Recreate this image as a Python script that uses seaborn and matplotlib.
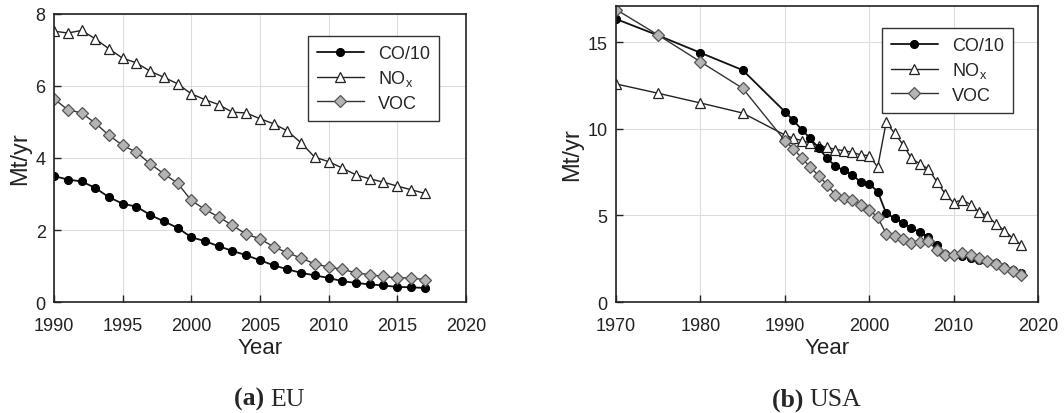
import numpy as np
import pandas as pd
import matplotlib
matplotlib.use("Agg")
import matplotlib.pyplot as plt
import seaborn as sns

# EU emissions (Mt/yr), 1990-2017
eu_years = list(range(1990, 2018))
eu_co = [3.50, 3.40, 3.35, 3.17, 2.91, 2.73, 2.65, 2.42, 2.24, 2.06,
         1.80, 1.69, 1.55, 1.42, 1.30, 1.16, 1.02, 0.91, 0.81, 0.74,
         0.67, 0.58, 0.53, 0.49, 0.46, 0.42, 0.41, 0.39]
eu_nox = [7.52, 7.47, 7.54, 7.31, 7.03, 6.77, 6.64, 6.41, 6.24, 6.06,
          5.78, 5.62, 5.48, 5.27, 5.25, 5.09, 4.95, 4.75, 4.42, 4.02,
          3.90, 3.72, 3.53, 3.42, 3.33, 3.22, 3.12, 3.02]
eu_voc = [5.64, 5.34, 5.25, 4.97, 4.63, 4.35, 4.16, 3.84, 3.56, 3.30,
          2.82, 2.57, 2.36, 2.13, 1.88, 1.76, 1.53, 1.37, 1.22, 1.06,
          0.97, 0.91, 0.81, 0.76, 0.71, 0.67, 0.67, 0.62]

# USA emissions (Mt/yr), 1970-1985 every 5 years, then yearly to 2018
us_years = [1970, 1975, 1980, 1985] + list(range(1990, 2019))
us_co = [16.35, 15.40, 14.40, 13.40,
         11.00, 10.50, 9.96, 9.46, 8.90, 8.30, 7.85, 7.60, 7.35, 6.92,
         6.83, 6.38, 5.13, 4.85, 4.58, 4.27, 4.04, 3.75, 3.27, 2.79,
         2.73, 2.65, 2.54, 2.44, 2.35, 2.25, 2.02, 1.83, 1.69]
us_nox = [12.60, 12.06, 11.50, 10.92,
          9.65, 9.46, 9.33, 9.19, 9.04, 8.94, 8.81, 8.75, 8.65, 8.50,
          8.46, 7.79, 10.38, 9.75, 9.10, 8.30, 7.98, 7.69, 6.96, 6.25,
          5.73, 5.92, 5.63, 5.23, 4.96, 4.52, 4.13, 3.69, 3.31]
us_voc = [16.90, 15.42, 13.88, 12.35,
          9.33, 8.85, 8.33, 7.79, 7.31, 6.77, 6.19, 6.00, 5.87, 5.62,
          5.33, 4.90, 3.94, 3.79, 3.62, 3.42, 3.46, 3.52, 2.98, 2.73,
          2.73, 2.83, 2.69, 2.54, 2.35, 2.21, 1.96, 1.77, 1.54]

sns.set_style("ticks")
plt.rcParams['font.family'] = ['Liberation Sans', 'DejaVu Sans']
plt.rcParams['xtick.direction'] = 'in'
plt.rcParams['ytick.direction'] = 'in'

styles = {
    "NOx": dict(marker="^", mfc="white", mec="#222222", color="#222222", ms=6.5, mew=0.9, lw=1.0),
    "CO":  dict(marker="o", mfc="black", mec="black", color="#111111", ms=5.8, lw=1.3),
    "VOC": dict(marker="D", mfc="#b4b4b4", mec="#555555", color="#333333", ms=6.0, mew=0.9, lw=1.0),
}
labels = {"CO": "CO/10", "NOx": r"NO$_\mathregular{x}$", "VOC": "VOC"}


def draw_panel(ax, years, co, nox, voc, ax_h, ylab_x):
    df = pd.DataFrame({"Year": years, "CO": co, "NOx": nox, "VOC": voc})
    handles = {}
    for key in ["NOx", "CO", "VOC"]:
        sns.lineplot(data=df, x="Year", y=key, ax=ax, label=labels[key], **styles[key])
        handles[key] = ax.get_lines()[-1]
    ax.grid(True, color="#dddddd", lw=0.8)
    ax.set_axisbelow(True)
    for s in ax.spines.values():
        s.set_color("#222222")
        s.set_linewidth(1.2)
    ax.tick_params(labelsize=13, length=5, width=1, colors="#222222")
    ax.tick_params(axis="x", pad=11)
    ax.tick_params(axis="y", pad=6)
    ax.set_xlabel("Year", fontsize=16, va="center", color="#222222")
    ax.xaxis.set_label_coords(0.5, -45 / ax_h)
    ax.set_ylabel("Mt/yr", fontsize=17, va="center", ha="center", color="#222222")
    ax.yaxis.set_label_coords(ylab_x, 0.5)
    order = ["CO", "NOx", "VOC"]
    return [handles[k] for k in order], [labels[k] for k in order]


fig = plt.figure(figsize=(10.64, 4.14), dpi=100)
ax1 = fig.add_axes([0.0508, 0.268, 0.387, 0.696])
ax2 = fig.add_axes([0.579, 0.268, 0.3966, 0.715])

h, l = draw_panel(ax1, eu_years, eu_co, eu_nox, eu_voc, 288, -0.082)
ax1.set_xlim(1990, 2020)
ax1.set_ylim(0, 8)
ax1.set_xticks(range(1990, 2021, 5))
ax1.set_yticks([0, 2, 4, 6, 8])
leg = ax1.legend(h, l, loc="upper right", bbox_to_anchor=(0.957, 0.955), fontsize=13,
                 fancybox=False, edgecolor="#333333", framealpha=1, handlelength=2.6,
                 borderpad=0.5, labelspacing=0.35)
leg.get_frame().set_linewidth(1.0)

h, l = draw_panel(ax2, us_years, us_co, us_nox, us_voc, 296, -0.104)
ax2.set_xlim(1970, 2020)
ax2.set_ylim(0, 17.1)
ax2.set_xticks(range(1970, 2021, 10))
ax2.set_yticks([0, 5, 10, 15])
leg = ax2.legend(h, l, loc="upper right", bbox_to_anchor=(0.962, 0.956), fontsize=13,
                 fancybox=False, edgecolor="#333333", framealpha=1, handlelength=2.6,
                 borderpad=0.5, labelspacing=0.35)
leg.get_frame().set_linewidth(1.0)

# captions
for xc, tag, name in [(0.254, "(a)", "EU"), (0.761, "(b)", "USA")]:
    fig.text(xc, 0.034, tag + " ", ha="right", va="center", fontsize=18.5,
             family="Liberation Serif", fontweight="bold")
    fig.text(xc, 0.034, name, ha="left", va="center", fontsize=18.5,
             family="Liberation Serif")

fig.savefig("out.png", dpi=100)
